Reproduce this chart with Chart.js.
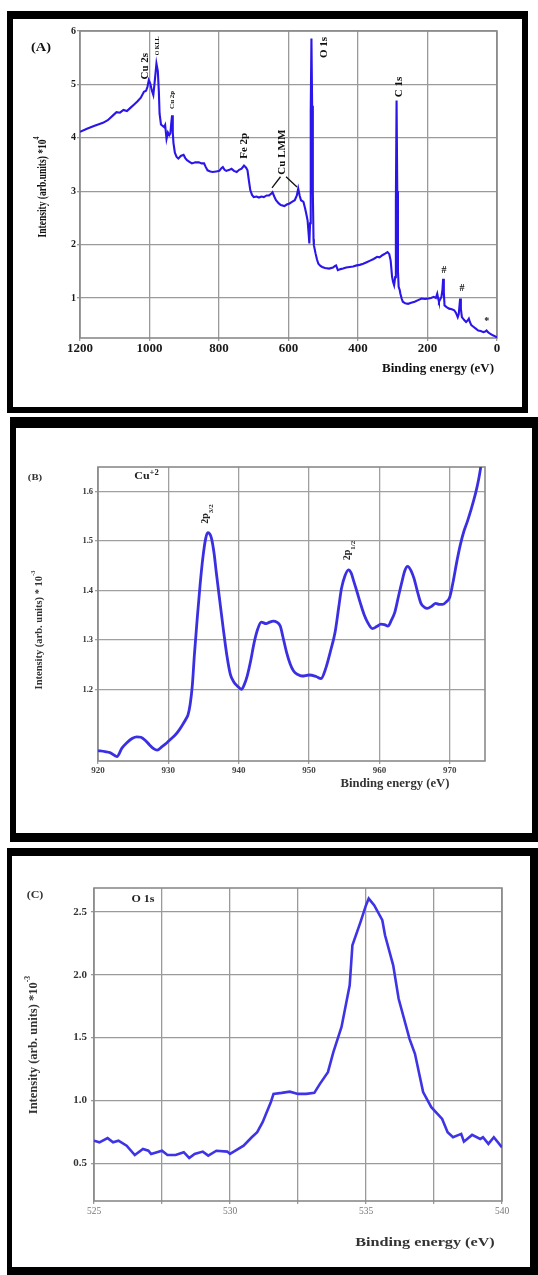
<!DOCTYPE html>
<html>
<head>
<meta charset="utf-8">
<script src="https://cdn.jsdelivr.net/npm/chart.js@4.4.0/dist/chart.umd.min.js"></script>
<style>
  html, body { margin: 0; padding: 0; background: #fff; }
  body { width: 538px; height: 1275px; position: relative; overflow: hidden; }
  .frame { position: absolute; box-sizing: border-box; border: solid #000; background: #fff; }
  canvas { position: absolute; left: 0; }
  #cA { filter: blur(0.35px); }
  #cB { filter: blur(0.6px); }
  #cC { filter: blur(0.4px); }
</style>
</head>
<body>
<div class="frame" style="left:7px;top:11px;width:521px;height:402px;border-width:8px 6px 6px 6px"></div>
<div class="frame" style="left:10px;top:417px;width:528px;height:425px;border-width:11px 6px 9px 6px"></div>
<div class="frame" style="left:7px;top:848px;width:531px;height:427px;border-width:8px 8px 8px 5px"></div>
<canvas id="cA" width="538" height="413" style="top:0"></canvas>
<canvas id="cB" width="538" height="425" style="top:417px"></canvas>
<canvas id="cC" width="538" height="427" style="top:848px"></canvas>

<script>
// ---- (A) survey spectrum: binding energy (eV) and intensity (x10^4) ----
const surveyEnergy = [
  1200, 1180, 1160, 1134, 1120, 1105, 1095, 1085, 1075, 1065, 1055, 1045, 1035, 1025, 1016, 1010,
  1006, 1002, 998, 993, 989, 985, 980, 976, 973, 971, 967, 962, 958, 955, 951, 947, 943, 940,
  937, 935, 933, 931, 927, 922, 917, 910, 902, 897, 892, 885, 878, 868, 858, 850, 843, 838, 833,
  825, 818, 808, 799, 793, 789, 784, 779, 770, 764, 757, 749, 742, 735, 728, 722, 718, 714, 710,
  705, 700, 692, 685, 678, 671, 663, 656, 650, 646, 641, 636, 628, 622, 612, 605, 597, 590, 582,
  576, 572, 568, 564, 557, 552, 548, 545, 542, 540, 538, 536, 534, 532, 530, 528, 527, 522, 518,
  514, 508, 503, 495, 483, 472, 466, 463, 458, 450, 443, 434, 424, 414, 404, 395, 385, 375, 365,
  355, 345, 338, 330, 322, 315, 310, 306, 302, 299, 296, 293, 291, 289, 287, 285, 283, 280, 278,
  274, 271, 264, 256, 247, 237, 227, 217, 207, 197, 190, 182, 176, 172, 169, 167, 163, 160, 157,
  155, 153, 151, 145, 138, 130, 123, 118, 113, 110, 108, 106, 104, 101, 95, 89, 84, 81, 78, 74,
  68, 60, 54, 47, 39, 34, 30, 26, 20, 12, 5, 0
];
const surveyIntensity = [
  4.11, 4.17, 4.22, 4.28, 4.33, 4.42, 4.48, 4.47, 4.52, 4.50, 4.56, 4.62, 4.68, 4.75, 4.86, 4.88,
  4.95, 5.08, 5.02, 4.88, 4.80, 5.05, 5.39, 5.25, 4.85, 4.45, 4.25, 4.22, 4.20, 4.24, 3.98, 4.10, 4.05, 4.08,
  4.30, 4.42, 4.10, 3.90, 3.72, 3.64, 3.61, 3.66, 3.68, 3.62, 3.58, 3.55, 3.52, 3.54, 3.54, 3.52, 3.52, 3.45, 3.39,
  3.37, 3.36, 3.37, 3.38, 3.43, 3.45, 3.40, 3.38, 3.40, 3.42, 3.38, 3.36, 3.40, 3.42, 3.48, 3.44, 3.39, 3.20, 3.02,
  2.93, 2.89, 2.90, 2.88, 2.90, 2.89, 2.92, 2.92, 2.95, 2.98, 2.90, 2.83, 2.77, 2.74, 2.72, 2.75, 2.77, 2.80, 2.83,
  2.92, 3.05, 2.92, 2.83, 2.80, 2.67, 2.55, 2.45, 2.20, 2.02, 2.40, 4.50, 5.86, 4.60, 3.00, 2.10, 1.99, 1.83, 1.72,
  1.64, 1.60, 1.58, 1.56, 1.55, 1.57, 1.60, 1.61, 1.52, 1.54, 1.55, 1.57, 1.58, 1.59, 1.61, 1.62, 1.64, 1.67, 1.70,
  1.73, 1.77, 1.76, 1.80, 1.83, 1.86, 1.82, 1.70, 1.40, 1.30, 1.24, 1.39, 2.80, 4.70, 3.00, 1.50, 1.21, 1.15, 1.08,
  0.98, 0.93, 0.90, 0.89, 0.91, 0.93, 0.96, 0.99, 0.98, 0.99, 1.00, 1.02, 1.00, 1.08, 0.98, 0.93, 0.98, 1.02, 1.15,
  1.36, 1.10, 0.86, 0.83, 0.80, 0.79, 0.77, 0.72, 0.64, 0.70, 0.85, 0.99, 0.80, 0.64, 0.59, 0.55, 0.58, 0.61, 0.55, 0.49,
  0.46, 0.42, 0.39, 0.38, 0.36, 0.37, 0.39, 0.36, 0.33, 0.30, 0.28, 0.26
];
const surveyXTicks = [0, 200, 400, 600, 800, 1000, 1200];
const surveyYTicks = [1, 2, 3, 4, 5, 6];

// ---- (B) Cu 2p region: binding energy (eV) and intensity (x10^-3) ----
const cuEnergy = [
  920, 921, 921.7, 922.7, 923.4, 924.1, 924.9, 925.5, 926.1, 926.7, 927.3, 927.9, 928.4, 929.1, 929.8,
  930.4, 931, 931.5, 932, 932.5, 932.8, 933.1, 933.4, 933.7, 934.1, 934.5, 934.9, 935.3, 935.6, 936.1,
  936.5, 936.8, 937.3, 937.8, 938.3, 938.8, 939.3, 939.8, 940.4, 940.8, 941.2, 941.7, 942.2, 942.7, 943.2,
  943.9, 944.4, 944.9, 945.4, 945.9, 946.3, 946.8, 947.3, 947.8, 948.4, 949, 950, 951, 951.7, 952.4,
  953, 953.7, 954.2, 954.6, 955.1, 955.6, 956, 956.3, 956.8, 957.3, 957.8, 958.3, 959, 959.6, 960.2,
  960.7, 961.2, 961.7, 962.2, 962.7, 963.2, 963.6, 964, 964.5, 964.9, 965.4, 965.9, 966.4, 966.8, 967.4,
  968, 968.5, 969, 969.5, 970, 970.5, 971, 971.5, 972, 972.5, 972.9, 973.3, 973.7, 974.1, 974.4
];
const cuIntensity = [
  1.076, 1.074, 1.072, 1.064, 1.081, 1.092, 1.101, 1.104, 1.103, 1.097, 1.088, 1.080, 1.077, 1.084, 1.092,
  1.100, 1.108, 1.117, 1.128, 1.140, 1.149, 1.170, 1.207, 1.270, 1.343, 1.410, 1.466, 1.505, 1.517, 1.507,
  1.475, 1.438, 1.380, 1.323, 1.270, 1.231, 1.215, 1.207, 1.200, 1.210, 1.227, 1.258, 1.295, 1.322, 1.336,
  1.333, 1.336, 1.338, 1.336, 1.328, 1.305, 1.275, 1.252, 1.237, 1.230, 1.227, 1.229, 1.226, 1.222, 1.244,
  1.275, 1.316, 1.365, 1.404, 1.430, 1.442, 1.435, 1.421, 1.398, 1.374, 1.352, 1.336, 1.323, 1.327, 1.332,
  1.331, 1.328, 1.340, 1.357, 1.388, 1.418, 1.440, 1.449, 1.440, 1.425, 1.398, 1.374, 1.366, 1.364, 1.368,
  1.374, 1.372, 1.372, 1.377, 1.387, 1.420, 1.459, 1.493, 1.520, 1.540, 1.558, 1.578, 1.599, 1.625, 1.650
];
const cuXTicks = [920, 930, 940, 950, 960, 970];
const cuYTicks = [1.2, 1.3, 1.4, 1.5, 1.6];

// ---- (C) O 1s region: binding energy (eV) and intensity (x10^-3) ----
const oEnergy = [
  525, 525.2, 525.5, 525.7, 525.9, 526.2, 526.5, 526.8, 527.0, 527.1, 527.5, 527.7, 528.0, 528.3, 528.5,
  528.7, 529.0, 529.2, 529.5, 529.9, 530.0, 530.2, 530.5, 530.8, 531.0, 531.2, 531.3, 531.5, 531.6, 531.9,
  532.2, 532.5, 532.8, 533.1, 533.3, 533.6, 533.8, 534.1, 534.4, 534.5, 534.8, 535.0, 535.1, 535.3, 535.6,
  535.7, 536.0, 536.2, 536.6, 536.8, 537.1, 537.4, 537.8, 538.0, 538.2, 538.5, 538.6, 538.9, 539.2, 539.3,
  539.5, 539.7, 540
];
const oIntensity = [
  0.680, 0.667, 0.700, 0.667, 0.680, 0.640, 0.566, 0.614, 0.600, 0.574, 0.600, 0.566, 0.566, 0.588, 0.542,
  0.574, 0.593, 0.561, 0.600, 0.593, 0.574, 0.600, 0.640, 0.707, 0.747, 0.827, 0.880, 0.986, 1.052, 1.060,
  1.070, 1.052, 1.052, 1.060, 1.130, 1.225, 1.385, 1.584, 1.916, 2.234, 2.420, 2.553, 2.606, 2.553, 2.434,
  2.314, 2.075, 1.809, 1.490, 1.371, 1.066, 0.946, 0.853, 0.747, 0.707, 0.734, 0.672, 0.726, 0.694, 0.707,
  0.654, 0.707, 0.627
];
const oXTicks = [525, 527.5, 530, 532.5, 535, 537.5, 540];
const oYTicks = [0.5, 1.0, 1.5, 2.0, 2.5];

const SERIF = '"Liberation Serif", "Times New Roman", serif';

// Draws a run of text pieces (with optional super/subscripts), optionally rotated and stretched.
function drawRuns(ctx, item, x, y) {
  const size = item.size;
  const weight = item.weight || 'bold';
  const parts = item.runs.map(r => {
    const small = r.sup || r.sub;
    const s = small ? size * (r.scale || 0.62) : size;
    const font = `${weight} ${s}px ${SERIF}`;
    ctx.font = font;
    const dy = r.sup ? -size * (r.shift || 0.38) : r.sub ? size * (r.shift || 0.3) : 0;
    return { t: r.t, font, w: ctx.measureText(r.t).width, dy };
  });
  const total = parts.reduce((a, p) => a + p.w, 0);
  ctx.save();
  ctx.translate(x, y);
  ctx.scale(item.sx || 1, 1);
  if (item.rot) ctx.rotate(item.rot * Math.PI / 180);
  let cx = item.align === 'right' ? -total : item.align === 'left' ? 0 : -total / 2;
  ctx.fillStyle = item.color || '#111';
  ctx.textBaseline = 'middle';
  ctx.textAlign = 'left';
  for (const p of parts) {
    ctx.font = p.font;
    ctx.fillText(p.t, cx, p.dy);
    cx += p.w;
  }
  ctx.restore();
}

// Plot frame, axis titles, panel letters and peak labels.
const decor = {
  id: 'decor',
  beforeDatasetsDraw(chart, args, o) {
    const { ctx, chartArea: a } = chart;
    ctx.save();
    ctx.strokeStyle = o.frameColor;
    ctx.lineWidth = o.frameWidth;
    ctx.strokeRect(a.left, a.top, a.right - a.left, a.bottom - a.top);
    ctx.restore();
  },
  afterDraw(chart, args, o) {
    const { ctx, scales } = chart;
    for (const ln of (o.lines || [])) {
      ctx.save();
      ctx.strokeStyle = '#111';
      ctx.lineWidth = 1.3;
      ctx.beginPath();
      ln.forEach((p, i) => {
        const px = scales.x.getPixelForValue(p[0]);
        const py = scales.y.getPixelForValue(p[1]);
        if (i === 0) ctx.moveTo(px, py); else ctx.lineTo(px, py);
      });
      ctx.stroke();
      ctx.restore();
    }
    for (const t of (o.texts || [])) {
      let x = t.x, y = t.y;
      if (t.data) {
        x = scales.x.getPixelForValue(t.data[0]);
        y = scales.y.getPixelForValue(t.data[1]);
      }
      drawRuns(ctx, t, x, y);
    }
  }
};

function spectrumChart(id, cfg) {
  const canvas = document.getElementById(id);
  const W = canvas.width, H = canvas.height;
  const area = cfg.area;
  const points = cfg.energy.map((e, i) => ({ x: e, y: cfg.intensity[i] }));
  const gridStyle = { color: cfg.gridColor, lineWidth: 1.3, tickLength: 3, drawTicks: true };
  return new Chart(canvas, {
    type: 'line',
    data: {
      datasets: [{
        data: points,
        borderColor: cfg.lineColor,
        borderWidth: cfg.lineWidth,
        pointRadius: 0,
        fill: false,
        tension: cfg.smooth ? 0.4 : 0,
        cubicInterpolationMode: cfg.smooth ? 'monotone' : 'default'
      }]
    },
    options: {
      responsive: false,
      animation: false,
      events: [],
      layout: {
        padding: {
          left: area.left - cfg.yAxisWidth,
          top: area.top,
          right: W - area.right,
          bottom: H - area.bottom - cfg.xAxisHeight
        }
      },
      plugins: { legend: { display: false }, tooltip: { enabled: false }, decor: cfg.decor },
      scales: {
        x: {
          type: 'linear',
          min: cfg.xRange[0], max: cfg.xRange[1], reverse: !!cfg.reverse,
          afterBuildTicks: s => { s.ticks = cfg.xTicks.map(v => ({ value: v })); },
          afterFit: s => { s.height = cfg.xAxisHeight; s.paddingLeft = 0; s.paddingRight = 0; },
          grid: gridStyle,
          border: { display: false },
          ticks: {
            autoSkip: false, maxRotation: 0, padding: cfg.xTickPad,
            color: cfg.xTickColor,
            font: { family: SERIF, size: cfg.xTickSize, weight: cfg.xTickWeight },
            callback: cfg.xLabel
          }
        },
        y: {
          type: 'linear',
          min: cfg.yRange[0], max: cfg.yRange[1],
          afterBuildTicks: s => { s.ticks = cfg.yTicks.map(v => ({ value: v })); },
          afterFit: s => { s.width = cfg.yAxisWidth; s.paddingTop = 0; s.paddingBottom = 0; },
          grid: gridStyle,
          border: { display: false },
          ticks: {
            autoSkip: false, padding: cfg.yTickPad,
            color: cfg.yTickColor,
            font: { family: SERIF, size: cfg.yTickSize, weight: 'bold' },
            callback: cfg.yLabel
          }
        }
      }
    },
    plugins: [decor]
  });
}

// (A) survey
spectrumChart('cA', {
  energy: surveyEnergy, intensity: surveyIntensity,
  xTicks: surveyXTicks, yTicks: surveyYTicks,
  xRange: [0, 1200], yRange: [0.25, 6], reverse: true,
  area: { left: 80, top: 31, right: 497, bottom: 338 },
  yAxisWidth: 30, xAxisHeight: 30,
  lineColor: 'rgb(42, 22, 232)', lineWidth: 2.1, smooth: false,
  gridColor: '#9a9a9a',
  xTickSize: 13, xTickWeight: 'bold', xTickColor: '#1a1a1a', xTickPad: 0,
  yTickSize: 10, yTickColor: '#1a1a1a', yTickPad: 1,
  xLabel: v => String(v), yLabel: v => String(v),
  decor: {
    frameColor: '#8a8a8a', frameWidth: 1.6,
    lines: [
      [[647.5, 3.06], [623, 3.27]],
      [[607, 3.27], [575.5, 3.08]]
    ],
    texts: [
      { x: 41, y: 48, size: 12, sx: 1.2, runs: [{ t: '(A)' }] },
      { x: 494, y: 369, size: 13, align: 'right', runs: [{ t: 'Binding energy (eV)' }] },
      { x: 43, y: 187, size: 9.5, sx: 1.3, rot: -90, runs: [{ t: 'Intensity (arb.units) *10' }, { t: '4', sup: true, shift: 0.5 }] },
      { data: [1013, 5.34], size: 11, rot: -90, runs: [{ t: 'Cu 2s' }] },
      { data: [978, 5.72], size: 6, rot: -90, runs: [{ t: 'O KLL' }] },
      { data: [934, 4.71], size: 7, rot: -90, runs: [{ t: 'Cu 2p' }] },
      { data: [728, 3.85], size: 11, rot: -90, runs: [{ t: 'Fe 2p' }] },
      { data: [619, 3.73], size: 11, rot: -90, runs: [{ t: 'Cu LMM' }] },
      { data: [496, 5.69], size: 11, rot: -90, runs: [{ t: 'O 1s' }] },
      { data: [283, 4.95], size: 11, rot: -90, runs: [{ t: 'C 1s' }] },
      { data: [152.5, 1.52], size: 10, runs: [{ t: '#' }] },
      { data: [101, 1.17], size: 10, runs: [{ t: '#' }] },
      { data: [29.6, 0.56], size: 10, runs: [{ t: '*' }] }
    ]
  }
});

// (B) Cu 2p
spectrumChart('cB', {
  energy: cuEnergy, intensity: cuIntensity,
  xTicks: cuXTicks, yTicks: cuYTicks,
  xRange: [920, 975], yRange: [1.055, 1.65], reverse: false,
  area: { left: 98, top: 50, right: 485, bottom: 344 },
  yAxisWidth: 30, xAxisHeight: 25,
  lineColor: 'rgb(58, 48, 226)', lineWidth: 2.8, smooth: true,
  gridColor: '#a0a0a0',
  xTickSize: 9, xTickWeight: 'bold', xTickColor: '#444', xTickPad: 1,
  yTickSize: 8.5, yTickColor: '#333', yTickPad: 2,
  xLabel: v => String(v), yLabel: v => v.toFixed(1),
  decor: {
    frameColor: '#8a8a8a', frameWidth: 1.6,
    texts: [
      { x: 35, y: 61, size: 9, sx: 1.2, color: '#333', runs: [{ t: '(B)' }] },
      { x: 395, y: 367, size: 11.5, sx: 1.1, color: '#333', runs: [{ t: 'Binding energy (eV)' }] },
      { x: 39, y: 213, size: 10.5, rot: -90, color: '#333', runs: [{ t: 'Intensity (arb. units) * 10' }, { t: '-3', sup: true, shift: 0.5 }] },
      { data: [926.9, 1.630], size: 10, sx: 1.2, color: '#222', runs: [{ t: 'Cu' }, { t: '+2', sup: true, scale: 0.72, shift: 0.42 }] },
      { data: [935.3, 1.555], size: 10, rot: -90, color: '#222', runs: [{ t: '2p' }, { t: '3/2', sub: true, scale: 0.7, shift: 0.55 }] },
      { data: [955.5, 1.481], size: 10, rot: -90, color: '#222', runs: [{ t: '2p' }, { t: '1/2', sub: true, scale: 0.7, shift: 0.55 }] }
    ]
  }
});

// (C) O 1s
spectrumChart('cC', {
  energy: oEnergy, intensity: oIntensity,
  xTicks: oXTicks, yTicks: oYTicks,
  xRange: [525, 540], yRange: [0.2, 2.69], reverse: false,
  area: { left: 94, top: 40, right: 502, bottom: 353 },
  yAxisWidth: 30, xAxisHeight: 25,
  lineColor: 'rgb(62, 52, 230)', lineWidth: 2.6, smooth: false,
  gridColor: '#9a9a9a',
  xTickSize: 9.5, xTickWeight: 'normal', xTickColor: '#777', xTickPad: 2,
  yTickSize: 11, yTickColor: '#333', yTickPad: 4,
  xLabel: v => (v % 5 === 0 ? String(v) : ''), yLabel: v => v.toFixed(1),
  decor: {
    frameColor: '#8a8a8a', frameWidth: 1.6,
    texts: [
      { x: 35, y: 47, size: 10, sx: 1.2, color: '#333', runs: [{ t: '(C)' }] },
      { x: 425, y: 395, size: 12, sx: 1.35, color: '#333', runs: [{ t: 'Binding energy (eV)' }] },
      { x: 34, y: 197, size: 12.5, rot: -90, color: '#333', runs: [{ t: 'Intensity (arb. units) *10' }, { t: '-3', sup: true, shift: 0.5 }] },
      { data: [526.8, 2.60], size: 10, sx: 1.2, color: '#222', runs: [{ t: 'O 1s' }] }
    ]
  }
});
</script>
</body>
</html>
